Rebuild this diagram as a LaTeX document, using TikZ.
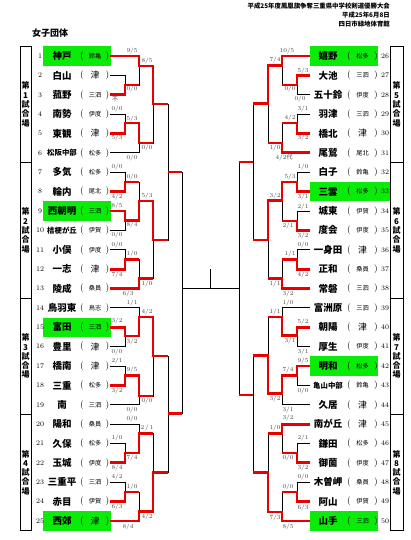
\documentclass[tikz,border=0pt]{standalone}
\usepackage{fontspec}
\newfontfamily\jp{Noto Sans CJK JP}
\usetikzlibrary{calc}
\definecolor{WinRed}{RGB}{232,0,0}
\definecolor{CourtGreen}{RGB}{10,235,10}
\definecolor{ScoreCol}{RGB}{70,70,70}
\tikzset{
  brline/.style={line width=0.8pt, draw=black},
  brwin/.style={line width=2.8pt, draw=WinRed, line join=miter},
  brname/.style={font=\jp\bfseries\fontsize{9.5}{10}\selectfont, inner sep=0pt},
  brnum/.style={font=\fontsize{7}{8}\selectfont, inner sep=0pt},
  brdist/.style={font=\jp\fontsize{6.2}{7}\selectfont, inner sep=0pt},
  brparen/.style={font=\fontsize{9}{9}\selectfont, inner sep=0pt},
  brscore/.style={font=\fontsize{6}{6}\selectfont, text=ScoreCol, inner sep=0pt},
  brcourt/.style={font=\jp\bfseries\fontsize{8}{9.3}\selectfont, align=center, inner sep=0pt},
  brhead/.style={font=\jp\bfseries\fontsize{6.4}{7}\selectfont, inner sep=0pt, anchor=east},
  brgreen/.style={fill=CourtGreen, draw=none}
}
\newcommand{\Tsu}{{\fontsize{9}{9}\selectfont 津}}
\newcommand{\Sm}[1]{{\fontsize{7.4}{8}\selectfont #1}}

\begin{document}
\begin{tikzpicture}[x=1pt,y=-1pt]
  \useasboundingbox (0,0) rectangle (410,540);
  % headings
  \node[brhead] (head1) at (390,6) {平成25年度鳳凰旗争奪三重県中学校剣道優勝大会};
  \node[brhead] (head2) at (390,15) {平成25年6月8日};
  \node[brhead] (head3) at (390,24) {四日市緑地体育館};
  \node[font=\jp\bfseries\fontsize{9}{9}\selectfont, inner sep=0pt] (title) at (50,33) {女子団体};
  % court winners
  \foreach \n in {1,9,15,25}
    \fill[brgreen] (43,{56+(\n-1)*19.375-9.7}) rectangle (111,{56+(\n-1)*19.375+9.7});
  \foreach \n/\xr in {26/378,33/390,42/378,50/378}
    \fill[brgreen] (310,{56+(\n-26)*19.375-9.7}) rectangle (\xr,{56+(\n-26)*19.375+9.7});
  % left teams
  \foreach \n/\nm/\ds [evaluate=\n as \yy using 56+(\n-1)*19.375] in
    {1/神戸/鈴亀, 2/白山/\Tsu, 3/菰野/三泗, 4/南勢/伊度, 5/東観/\Tsu, 6/\Sm{松阪中部}/松多,
     7/多気/松多, 8/輪内/尾北, 9/西朝明/三泗, 10/\Sm{桔梗が丘}/伊賀, 11/小俣/伊度, 12/一志/\Tsu,
     13/陵成/桑員, 14/鳥羽東/鳥志, 15/富田/三泗, 16/豊里/\Tsu, 17/橋南/\Tsu, 18/三重/松多,
     19/南/三泗, 20/陽和/桑員, 21/久保/松多, 22/玉城/伊度, 23/三重平/三泗, 24/赤目/伊賀, 25/西郊/\Tsu}{
    \node[brnum] (no\n) at (40,\yy) {\n};
    \node[brname] (nm\n) at (62,\yy) {\nm};
    \node[brparen] (po\n) at (82,\yy) {(};
    \node[brdist] (ds\n) at (95,\yy) {\ds};
    \node[brparen] (pc\n) at (107.5,\yy) {)};
    \coordinate (t\n) at (110,\yy);
  }
  % right teams
  \foreach \n/\nm/\ds [evaluate=\n as \yy using 56+(\n-26)*19.375] in
    {26/嬉野/松多, 27/大池/三泗, 28/五十鈴/伊度, 29/羽津/三泗, 30/橋北/\Tsu, 31/尾鷲/尾北,
     32/白子/鈴亀, 33/三雲/松多, 34/城東/伊賀, 35/度会/伊度, 36/一身田/\Tsu, 37/正和/桑員,
     38/常磐/三泗, 39/富洲原/三泗, 40/朝陽/\Tsu, 41/厚生/伊度, 42/明和/松多, 43/\Sm{亀山中部}/鈴亀,
     44/久居/\Tsu, 45/南が丘/\Tsu, 46/鎌田/松多, 47/御薗/伊度, 48/木曽岬/桑員, 49/阿山/伊賀, 50/山手/三泗}{
    \node[brnum] (no\n) at (385,\yy) {\n};
    \node[brname] (nm\n) at (328,\yy) {\nm};
    \node[brparen] (po\n) at (349,\yy) {(};
    \node[brdist] (ds\n) at (362.5,\yy) {\ds};
    \node[brparen] (pc\n) at (376,\yy) {)};
    \coordinate (t\n) at (310,\yy);
  }
  % court frames
  \draw[brline] (20,46.3) rectangle (31,530.7);
  \draw[brline] (390,46.3) rectangle (403,530.7);
  \foreach \yy in {162.6,298.2,414.4}{
    \draw[brline] (20,\yy) -- (31,\yy);
    \draw[brline] (390,\yy) -- (403,\yy);
  }
  \foreach \k/\xx/\yy in {1/25.5/104.5, 2/25.5/230.4, 3/25.5/356.3, 4/25.5/472.6,
                          5/396.5/104.5, 6/396.5/230.4, 7/396.5/356.3, 8/396.5/472.6}
    \node[brcourt] (court\k) at (\xx,\yy) {第\\\k\\試\\合\\場};
  % match points, left
  \coordinate (a1) at (125,85);    \coordinate (a2) at (139,66);
  \coordinate (a3) at (125,123);   \coordinate (a4) at (139,143);
  \coordinate (a5) at (153,104);
  \coordinate (b1) at (125,182);   \coordinate (b2) at (125,220.5);
  \coordinate (b3) at (139,201);   \coordinate (b4) at (125,259.5);
  \coordinate (b5) at (139,278.5); \coordinate (b6) at (153,240);
  \coordinate (L1) at (168,172);
  \coordinate (c1) at (125,336);   \coordinate (c2) at (139,317);
  \coordinate (c3) at (125,375.5); \coordinate (c4) at (139,396);
  \coordinate (c5) at (153,356);
  \coordinate (e1) at (125,453);   \coordinate (e2) at (139,433.5);
  \coordinate (e3) at (125,492);   \coordinate (e4) at (139,511.5);
  \coordinate (e5) at (153,472.5);
  \coordinate (L2) at (168,413.5);
  \coordinate (LF) at (182,288.5);
  % match points, right
  \coordinate (f1) at (297,85);    \coordinate (f2) at (282,65.5);
  \coordinate (f3) at (297,123);   \coordinate (f4) at (282,143);
  \coordinate (f5) at (268,103.5);
  \coordinate (g1) at (297,182);   \coordinate (g2) at (297,221);
  \coordinate (g3) at (282,200.5); \coordinate (g4) at (297,259.5);
  \coordinate (g5) at (282,278.5); \coordinate (g6) at (268,240);
  \coordinate (R1) at (253,162);
  \coordinate (h1) at (297,335.5); \coordinate (h2) at (282,317);
  \coordinate (h3) at (297,375.5); \coordinate (h4) at (282,393.5);
  \coordinate (h5) at (268,355.5);
  \coordinate (k1) at (297,453);   \coordinate (k2) at (282,433.5);
  \coordinate (k3) at (297,492);   \coordinate (k4) at (282,512);
  \coordinate (k5) at (268,472.5);
  \coordinate (R2) at (253,395);
  \coordinate (RF) at (239,288.5);
  \coordinate (tick) at (210,269);
  % bracket
  \foreach \a/\m in {t2/a1,t3/a1,t1/a2,a1/a2,t4/a3,t5/a3,a3/a4,t6/a4,a2/a5,a4/a5,
                     t7/b1,t8/b1,t9/b2,t10/b2,b1/b3,b2/b3,t11/b4,t12/b4,b4/b5,t13/b5,b3/b6,b5/b6,
                     a5/L1,b6/L1,
                     t15/c1,t16/c1,t14/c2,c1/c2,t17/c3,t18/c3,c3/c4,t19/c4,c2/c5,c4/c5,
                     t21/e1,t22/e1,t20/e2,e1/e2,t23/e3,t24/e3,e3/e4,t25/e4,e2/e5,e4/e5,
                     c5/L2,e5/L2,L1/LF,L2/LF,
                     t27/f1,t28/f1,t26/f2,f1/f2,t29/f3,t30/f3,f3/f4,t31/f4,f2/f5,f4/f5,
                     t32/g1,t33/g1,t34/g2,t35/g2,g1/g3,g2/g3,t36/g4,t37/g4,g4/g5,t38/g5,g3/g6,g5/g6,
                     f5/R1,g6/R1,
                     t40/h1,t41/h1,t39/h2,h1/h2,t42/h3,t43/h3,h3/h4,t44/h4,h2/h5,h4/h5,
                     t46/k1,t47/k1,t45/k2,k1/k2,t48/k3,t49/k3,k3/k4,t50/k4,k2/k5,k4/k5,
                     h5/R2,k5/R2,R1/RF,R2/RF}
    \draw[brline] (\a) -| (\m);
  \draw[brline] (LF) -- (RF);
  \draw[brline] (tick) -- (tick |- LF);
  % winners
  \draw[brwin] (t1) -| (a2) -| (a5) -- (a5 -| L1);
  \draw[brwin] (t3) -| (a1) -- (a1 -| a2);
  \draw[brwin] (t5) -| (a3) -| (a4) -- (a4 -| a5);
  \draw[brwin] (t8) -| (b1) -- (b1 -| b3);
  \draw[brwin] (t9) -| (b2) -| (b3) -| (b6) -- (b6 -| L1);
  \draw[brwin] (t12) -| (b4) -- (b4 -| b5);
  \draw[brwin] (t13) -| (b5) -- (b5 -| b6);
  \draw[brwin] (t15) -| (c1) -| (c2) -| (c5) -- (c5 -| L2);
  \draw[brwin] (t18) -| (c3) -| (c4) -- (c4 -| c5);
  \draw[brwin] (t22) -| (e1) -| (e2) -- (e2 -| e5);
  \draw[brwin] (t24) -| (e3) -- (e3 -| e4);
  \draw[brwin] (t25) -| (e4) -| (e5) -- (e5 -| L2);
  \draw[brwin] (L1) -- (L1 -| LF);
  \draw[brwin] (L2) -- (L2 -| LF);
  \draw[brwin] (t26) -| (f2) -| (f5) -- (f5 -| R1);
  \draw[brwin] (t27) -| (f1) -- (f1 -| f2);
  \draw[brwin] (t30) -| (f3) -- (f3 -| f4);
  \draw[brwin] (t31) -| (f4) -- (f4 -| f5);
  \draw[brwin] (t33) -| (g1) -| (g3) -| (g6) -- (g6 -| R1);
  \draw[brwin] (t35) -| (g2) -- (g2 -| g3);
  \draw[brwin] (t37) -| (g4) -- (g4 -| g5);
  \draw[brwin] (t38) -| (g5) -- (g5 -| g6);
  \draw[brwin] (t40) -| (h1) -| (h2) -- (h2 -| h5);
  \draw[brwin] (t42) -| (h3) -| (h4) -| (h5) -- (h5 -| R2);
  \draw[brwin] (t45) -| (k2) -- (k2 -| k5);
  \draw[brwin] (t47) -| (k1) -- (k1 -| k2);
  \draw[brwin] (t49) -| (k3) -- (k3 -| k4);
  \draw[brwin] (t50) -| (k4) -| (k5) -- (k5 -| R2);
  \draw[brwin] (R1) -- (R1 -| RF);
  \draw[brwin] (R2) -- (R2 -| RF);
  % scores
  \foreach \x/\y/\s [count=\k] in
    {132/51/{9/5}, 147/61/{8/5}, 132/89.5/{0/0}, 115/99/{\jp 不}, 117/109/{0/0}, 132/119/{5/3},
     117/138/{5/3}, 147/148/{0/0}, 132/158/{0/0}, 117/167/{0/0}, 132/177/{0/0}, 117/197/{4/2},
     147/196/{5/3}, 117/206/{8/5}, 132/225/{8/4}, 117/235/{0/0}, 117/245/{0/0}, 132/254/{1/0},
     117/275/{7/4}, 147/284/{1/0}, 128/294/{6/3}, 132/303/{1/1}, 147/312/{4/2}, 117/321/{3/2},
     132/342/{3/2}, 117/352/{0/0}, 117/361/{2/1}, 132/370/{9/5}, 117/391/{3/2}, 147/401/{0/0},
     132/410/{0/0}, 132/419/{0/0}, 147/428/{2\,/\,1}, 117/438/{1/0}, 132/458/{7/4}, 117/468/{8/4},
     117/477/{4/2}, 132/487/{1/0}, 117/507/{6/3}, 147/517/{4/2}, 128/527/{8/4}}
    \node[brscore] (sl\k) at (\x,\y) {\s};
  \foreach \x/\y/\s [count=\k] in
    {287/51/{10/5}, 275/60.5/{7/4}, 303/71/{5/3}, 290/89.5/{0/0}, 300/99/{0/0}, 303/109/{3/1},
     290/118/{4/2}, 303/138/{3/2}, 275/148/{1/0}, 284/158/{4/2{\jp 代}}, 303/167/{1/0}, 290/177/{5/3},
     303/197/{3/1}, 275/196/{3/2}, 303/207/{2/1}, 288/226/{2/1}, 303/236/{3/2}, 303/245/{0/0},
     290/254/{1/1}, 303/275/{4/2}, 275/284/{1/1}, 288/294/{3/2}, 288/303/{1/0}, 275/312/{1/1},
     303/322/{5/2}, 290/341/{3/1}, 303/352/{3/1}, 303/361/{9/5}, 288/370/{7/4}, 303/391/{0/0},
     275/399/{3/2}, 288/410/{3/1}, 288/418/{3/2}, 275/428/{1/0}, 303/438/{2/1}, 288/458/{0/0},
     303/468/{3/2}, 303/477/{0/0}, 288/487/{0/0}, 303/508/{6/3}, 275/518/{7/3}, 288/527/{8/5}}
    \node[brscore] (sr\k) at (\x,\y) {\s};
\end{tikzpicture}
\end{document}
